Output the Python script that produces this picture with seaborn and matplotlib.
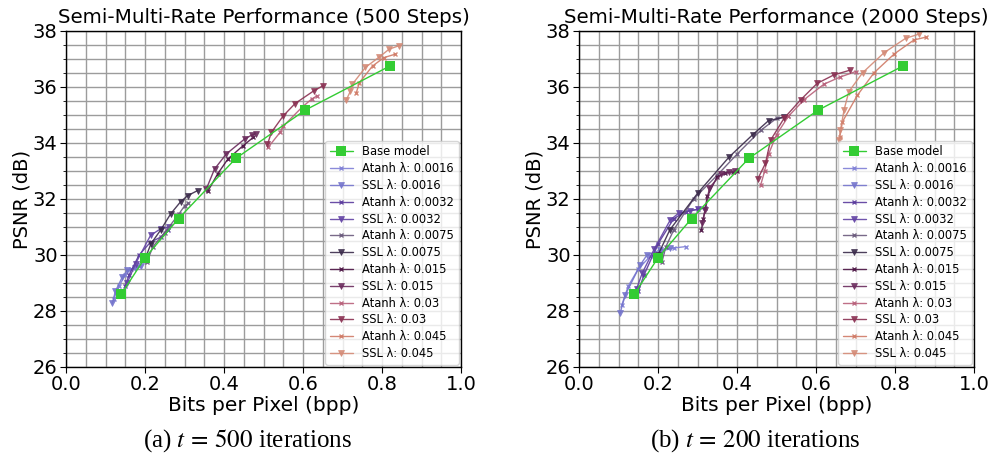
import numpy as np
import pandas as pd
import matplotlib
matplotlib.use("Agg")
import matplotlib.pyplot as plt
import seaborn as sns
from matplotlib.ticker import MultipleLocator

# ---------------- data ----------------
lambdas = ["0.0016", "0.0032", "0.0075", "0.015", "0.03", "0.045"]

base_bpp = [0.14, 0.20, 0.285, 0.43, 0.605, 0.82]
base_psnr = [28.6, 29.9, 31.3, 33.45, 35.17, 36.75]

# 500 steps
l_atanh_bpp = [
    [0.121, 0.135, 0.150, 0.165, 0.185],
    [0.150, 0.160, 0.185, 0.214, 0.240, 0.257],
    [0.205, 0.220, 0.250, 0.285, 0.300, 0.310],
    [0.360, 0.384, 0.410, 0.448, 0.474],
    [0.512, 0.542, 0.550, 0.597, 0.622, 0.635],
    [0.735, 0.743, 0.776, 0.805, 0.833],
]
l_atanh_psnr = [
    [28.44, 28.90, 29.30, 29.50, 29.60],
    [28.90, 29.30, 30.00, 30.46, 30.64, 30.90],
    [29.75, 30.30, 30.80, 31.45, 31.75, 31.85],
    [32.30, 32.90, 33.43, 33.90, 34.20],
    [33.85, 34.38, 34.60, 35.27, 35.57, 35.68],
    [35.80, 36.16, 36.75, 37.05, 37.17],
]
l_ssl_bpp = [
    [0.117, 0.125, 0.142, 0.155, 0.175, 0.190],
    [0.155, 0.176, 0.214, 0.240, 0.260],
    [0.200, 0.215, 0.240, 0.265, 0.290, 0.308, 0.333],
    [0.355, 0.376, 0.406, 0.452, 0.470, 0.480],
    [0.510, 0.520, 0.550, 0.580, 0.627, 0.650],
    [0.710, 0.720, 0.725, 0.758, 0.793, 0.818, 0.842],
]
l_ssl_psnr = [
    [28.27, 28.70, 29.20, 29.45, 29.55, 29.60],
    [29.00, 29.69, 30.70, 30.94, 31.00],
    [29.85, 30.40, 30.90, 31.47, 31.90, 32.12, 32.30],
    [32.35, 33.07, 33.61, 34.14, 34.28, 34.33],
    [33.95, 34.38, 34.97, 35.41, 35.86, 36.04],
    [35.55, 35.85, 36.10, 36.70, 37.07, 37.35, 37.47],
]

# 2000 steps
r_atanh_bpp = [
    [0.108, 0.125, 0.150, 0.180, 0.210, 0.240, 0.270],
    [0.150, 0.165, 0.200, 0.240, 0.270, 0.300, 0.320],
    [0.210, 0.220, 0.240, 0.290, 0.350, 0.400, 0.460, 0.500, 0.530],
    [0.310, 0.315, 0.325, 0.350, 0.370, 0.390, 0.400],
    [0.460, 0.470, 0.480, 0.500, 0.530, 0.570, 0.620, 0.660, 0.700],
    [0.660, 0.667, 0.705, 0.747, 0.798, 0.848, 0.878],
]
r_atanh_psnr = [
    [28.20, 28.90, 29.50, 29.95, 30.15, 30.25, 30.30],
    [28.70, 29.30, 30.40, 31.30, 31.55, 31.63, 31.67],
    [29.75, 30.30, 30.90, 32.00, 32.85, 33.60, 34.45, 34.88, 34.95],
    [30.90, 31.30, 32.10, 32.80, 32.92, 32.97, 33.00],
    [32.50, 33.00, 33.60, 34.30, 34.95, 35.55, 36.10, 36.35, 36.55],
    [34.20, 34.76, 35.71, 36.51, 37.18, 37.68, 37.78],
]
r_ssl_bpp = [
    [0.104, 0.117, 0.155, 0.172, 0.206, 0.230],
    [0.146, 0.160, 0.190, 0.231, 0.252, 0.280, 0.300],
    [0.200, 0.230, 0.300, 0.380, 0.440, 0.480, 0.520],
    [0.311, 0.320, 0.330, 0.360, 0.380, 0.395],
    [0.452, 0.472, 0.485, 0.519, 0.561, 0.603, 0.645, 0.686],
    [0.658, 0.662, 0.671, 0.683, 0.718, 0.772, 0.827, 0.861],
]
r_ssl_psnr = [
    [27.92, 28.57, 29.64, 30.00, 30.18, 30.25],
    [28.80, 29.35, 30.20, 31.25, 31.49, 31.58, 31.63],
    [30.00, 30.90, 32.20, 33.50, 34.30, 34.80, 34.92],
    [31.13, 31.60, 32.40, 32.88, 32.95, 33.00],
    [32.70, 33.27, 34.10, 34.88, 35.54, 36.13, 36.43, 36.60],
    [34.10, 34.46, 35.18, 35.83, 36.51, 37.22, 37.74, 37.89],
]

atanh_colors = ["#7f7fd6", "#5a3a9c", "#6a5a7c", "#4a1242", "#b8607a", "#d07a66"]
ssl_colors = ["#7474cc", "#6242a4", "#3a2a4a", "#6a2a5c", "#8a3052", "#d48a76"]

# ---------------- plot ----------------
sns.set_style("white")
plt.rcParams["font.family"] = ["DejaVu Sans"]
plt.rcParams["mathtext.fontset"] = "stix"
for k in ["text.color", "axes.labelcolor", "xtick.color", "ytick.color"]:
    plt.rcParams[k] = "black"

fig = plt.figure(figsize=(9.93, 4.55), dpi=100)
ax1 = fig.add_axes([66 / 993, 88 / 455, 395 / 993, 336 / 455])
ax2 = fig.add_axes([579 / 993, 88 / 455, 395 / 993, 336 / 455])


def draw(ax, title, abx, aby, sbx, sby):
    df = pd.DataFrame({"bpp": base_bpp, "psnr": base_psnr})
    sns.lineplot(data=df, x="bpp", y="psnr", ax=ax, color="#33cc33", marker="s",
                 markersize=7, markeredgewidth=0, lw=1.0, sort=False,
                 estimator=None, label="Base model", zorder=5)
    for i, lam in enumerate(lambdas):
        da = pd.DataFrame({"bpp": abx[i], "psnr": aby[i]})
        sns.lineplot(data=da, x="bpp", y="psnr", ax=ax, color=atanh_colors[i],
                     marker="x", markersize=3.5, markeredgewidth=1.0,
                     markeredgecolor=atanh_colors[i], lw=1.0,
                     sort=False, estimator=None, alpha=0.9,
                     label=f"Atanh \u03bb: {lam}")
        ds = pd.DataFrame({"bpp": sbx[i], "psnr": sby[i]})
        sns.lineplot(data=ds, x="bpp", y="psnr", ax=ax, color=ssl_colors[i],
                     marker="v", markersize=4, markeredgewidth=0.5,
                     markeredgecolor=ssl_colors[i], lw=1.0,
                     sort=False, estimator=None, alpha=0.9,
                     label=f"SSL \u03bb: {lam}")
    ax.set_xlim(0, 1)
    ax.set_ylim(26, 38)
    ax.xaxis.set_major_locator(MultipleLocator(0.2))
    ax.xaxis.set_minor_locator(MultipleLocator(0.05))
    ax.yaxis.set_major_locator(MultipleLocator(2))
    ax.yaxis.set_minor_locator(MultipleLocator(0.5))
    ax.grid(which="both", color="#9c9c9c", lw=1.0)
    ax.set_axisbelow(True)
    ax.tick_params(which="major", labelsize=14, length=4, direction="out",
                   left=True, bottom=True, color="black", pad=2)
    ax.tick_params(which="minor", length=2, left=True, bottom=False, color="black")
    for s in ax.spines.values():
        s.set_color("black")
        s.set_linewidth(1.0)
    ax.set_xlabel("Bits per Pixel (bpp)", fontsize=14.5, labelpad=1)
    ax.set_ylabel("PSNR (dB)", fontsize=14, labelpad=1)
    ax.set_title(title, fontsize=14.3, pad=6)
    ax.legend(loc="lower right", fontsize=8.3, labelspacing=0.33,
              handlelength=2.0, borderaxespad=0.2, framealpha=0.8,
              edgecolor="#cccccc", fancybox=True)


draw(ax1, "Semi-Multi-Rate Performance (500 Steps)",
     l_atanh_bpp, l_atanh_psnr, l_ssl_bpp, l_ssl_psnr)
draw(ax2, "Semi-Multi-Rate Performance (2000 Steps)",
     r_atanh_bpp, r_atanh_psnr, r_ssl_bpp, r_ssl_psnr)

fig.text(248 / 993, 14 / 455, "(a) $t\\,=\\,500$ iterations", ha="center", va="center",
         fontsize=18, family=["Liberation Serif"])
fig.text(755 / 993, 14 / 455, "(b) $t\\,=\\,200$ iterations", ha="center", va="center",
         fontsize=18, family=["Liberation Serif"])

fig.savefig("out.png", dpi=100)
